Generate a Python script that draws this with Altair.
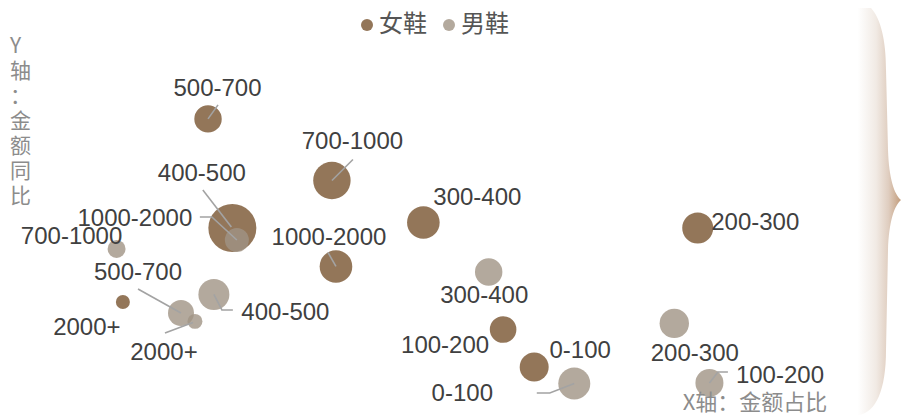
import base64
import altair as alt
import pandas as pd

# ---------------- data ----------------
bands = ["0-100", "100-200", "200-300", "300-400", "400-500",
         "500-700", "700-1000", "1000-2000", "2000+"]
series = ["女鞋", "男鞋"]

# X: 金额占比 (%)   Y: 金额同比 (%)   size: 金额
female_share = [11.68, 10.99, 15.31, 9.22, 4.98, 4.44, 7.19, 7.28, 2.55]
female_yoy = [-61.1, -46.4, -6.5, -4.3, -6.5, 36.4, 12.2, -21.6, -35.6]
female_amount = [210, 177, 240, 266, 576, 188, 350, 266, 49]

male_share = [12.57, 15.57, 14.79, 10.67, 4.57, 3.84, 2.41, 5.08, 4.15]
male_yoy = [-67.6, -67.4, -44.0, -23.8, -32.6, -39.9, -14.7, -11.2, -43.2]
male_amount = [256, 196, 216, 188, 240, 169, 81, 144, 56]

y_title_chars = ["Y", "轴", "：", "金", "额", "同", "比"]
x_title = "X轴：金额占比"

# ---------------- layout / style ----------------
W, H = 893, 407
PX_X = 45.05      # pixels per unit of share
PX_Y = 2.54375    # pixels per unit of yoy
X_DOMAIN = [0, W / PX_X]
Y_DOMAIN = [80 - H / PX_Y, 80]

F_COLOR = "#785430"
M_COLOR = "#a09484"
LABEL_FONT = "Liberation Sans, Arial, sans-serif"
CJK_FONT = "Noto Sans CJK SC, sans-serif"

# label placement (pixel offsets of label centre from bubble centre)
label_offset = {
    ("女鞋", "0-100"): (46, -16), ("女鞋", "100-200"): (-58, 16.5),
    ("女鞋", "200-300"): (57.5, -5), ("女鞋", "300-400"): (54, -24.5),
    ("女鞋", "400-500"): (-30.5, -54), ("女鞋", "500-700"): (9.5, -30),
    ("女鞋", "700-1000"): (20.5, -38), ("女鞋", "1000-2000"): (-7, -28.5),
    ("女鞋", "2000+"): (-36, 26),
    ("男鞋", "0-100"): (-112, 10.5), ("男鞋", "100-200"): (70.5, -7),
    ("男鞋", "200-300"): (20.5, 31), ("男鞋", "300-400"): (-4.5, 24),
    ("男鞋", "400-500"): (71.5, 18.5), ("男鞋", "500-700"): (-43, -40),
    ("男鞋", "700-1000"): (-45, -12), ("男鞋", "1000-2000"): (-102, -21),
    ("男鞋", "2000+"): (-31, 31.5),
}
# leader lines (pixel offsets from bubble centre)
leaders = {
    ("女鞋", "500-700"): [(0, 0), (10, -14)],
    ("女鞋", "700-1000"): [(0, 0), (21, -21)],
    ("女鞋", "400-500"): [(-1, -1), (-29.5, -38)],
    ("女鞋", "1000-2000"): [(0, 0), (-8, -14)],
    ("男鞋", "500-700"): [(0, 0), (-43, -24)],
    ("男鞋", "2000+"): [(-2, 1), (-30, 11.5)],
    ("男鞋", "400-500"): [(0, 0), (8, 15.5), (19, 15.5)],
    ("男鞋", "1000-2000"): [(0, 0), (-25, -23), (-37, -23)],
    ("男鞋", "0-100"): [(0, 0), (-24.5, 9.5), (-37.5, 9.5)],
    ("男鞋", "100-200"): [(0, 0), (8.5, -11), (18.5, -11)],
}

# ---------------- tables ----------------
rows = []
for s, xs, ys, ss in [("女鞋", female_share, female_yoy, female_amount),
                      ("男鞋", male_share, male_yoy, male_amount)]:
    for b, xv, yv, sv in zip(bands, xs, ys, ss):
        rows.append({"series": s, "band": b, "share": xv, "yoy": yv, "amount": sv})
pts = pd.DataFrame(rows)

lab = pts.copy()
lab["lx"] = [r.share + label_offset[(r.series, r.band)][0] / PX_X for r in pts.itertuples()]
lab["ly"] = [r.yoy - label_offset[(r.series, r.band)][1] / PX_Y for r in pts.itertuples()]

lead_rows = []
lookup = {(r.series, r.band): (r.share, r.yoy) for r in pts.itertuples()}
for k, (key, pl) in enumerate(leaders.items()):
    cx, cy = lookup[key]
    for i, (dx, dy) in enumerate(pl):
        lead_rows.append({"id": k, "i": i, "x": cx + dx / PX_X, "y": cy - dy / PX_Y})
lead = pd.DataFrame(lead_rows)

xs_ = alt.Scale(domain=X_DOMAIN, nice=False, zero=False)
ys_ = alt.Scale(domain=Y_DOMAIN, nice=False, zero=False)

bubbles = alt.Chart(pts).mark_circle(opacity=0.8).encode(
    x=alt.X("share:Q", scale=xs_, axis=None),
    y=alt.Y("yoy:Q", scale=ys_, axis=None),
    size=alt.Size("amount:Q", scale=alt.Scale(domain=[0, 600], range=[0, 2400]), legend=None),
    color=alt.Color("series:N", scale=alt.Scale(domain=series, range=[F_COLOR, M_COLOR]),
                    legend=alt.Legend(title=None, orient="none", legendX=347, legendY=5,
                                      direction="horizontal", symbolType="circle",
                                      symbolSize=144, symbolOpacity=0.8, symbolStrokeWidth=0,
                                      labelFontSize=24, labelFont=CJK_FONT,
                                      labelColor="#555555", labelOffset=0,
                                      columnPadding=10, padding=0)),
)

leader_lines = alt.Chart(lead).mark_line(color="#a3a3a3", strokeWidth=1.6).encode(
    x=alt.X("x:Q", scale=xs_, axis=None),
    y=alt.Y("y:Q", scale=ys_, axis=None),
    detail="id:N",
    order="i:Q",
)

labels = alt.Chart(lab).mark_text(fontSize=24, font=LABEL_FONT, color="#404040",
                                  align="center", baseline="middle").encode(
    x=alt.X("lx:Q", scale=xs_, axis=None),
    y=alt.Y("ly:Q", scale=ys_, axis=None),
    text="band:N",
)

y_title = alt.Chart(alt.Data(values=[{"t": 1}])).mark_text(
    fontSize=21, font=CJK_FONT, color="#8c8c8c", align="left", baseline="top", lineHeight=25
).encode(x=alt.value(2), y=alt.value(28), text=alt.value(y_title_chars))

x_title_mark = alt.Chart(alt.Data(values=[{"t": 1}])).mark_text(
    fontSize=22, font=CJK_FONT, color="#8c8c8c", align="center", baseline="middle"
).encode(x=alt.value(747), y=alt.value(395), text=alt.value(x_title))

brace_svg = (
    '<svg xmlns="http://www.w3.org/2000/svg" width="62" height="415" viewBox="0 0 62 415">'
    '<defs><linearGradient id="g" x1="0" y1="0" x2="1" y2="0">'
    '<stop offset="0" stop-color="#ffffff"/><stop offset="0.3" stop-color="#ffffff"/>'
    '<stop offset="0.6" stop-color="#f1eae4"/><stop offset="0.8" stop-color="#dfcdbf"/>'
    '<stop offset="1" stop-color="#c29c7b"/></linearGradient></defs>'
    '<path d="M0,0 L15,0 C35,0 47,25 47,70 L49,150 C50,178 55,194 62,200 '
    'C55,206 50,222 49,250 L47,350 C47,390 37,412 20,415 L0,415 Z" fill="url(#g)"/></svg>'
)
brace_url = "data:image/svg+xml;base64," + base64.b64encode(brace_svg.encode()).decode()
brace = alt.Chart(alt.Data(values=[{"u": brace_url}])).mark_image(
    width=62, height=415, aspect=False, align="left", baseline="top"
).encode(x=alt.value(831), y=alt.value(-8), url="u:N")

chart = alt.layer(brace, bubbles, leader_lines, labels, y_title, x_title_mark).properties(
    width=W, height=H, padding=0, autosize=alt.AutoSizeParams(type="none")
).configure_view(stroke=None)

chart.save("out.html", embed_options={"renderer": "svg", "actions": False})
